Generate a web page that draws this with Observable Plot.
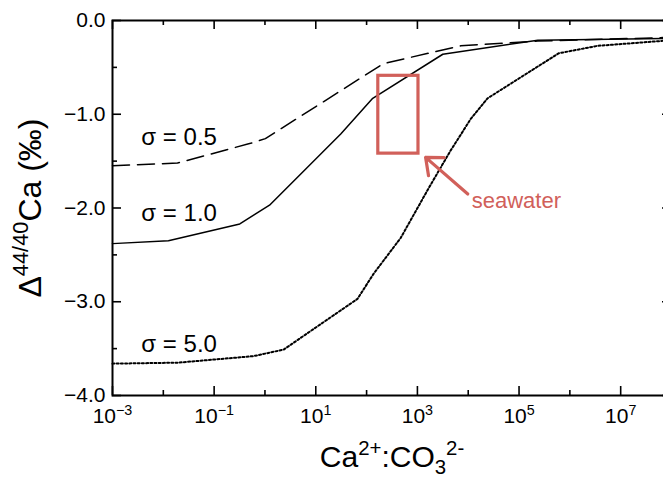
<!DOCTYPE html>
<html><head><meta charset="utf-8">
<script src="https://cdn.jsdelivr.net/npm/d3@7"></script>
<script src="https://cdn.jsdelivr.net/npm/@observablehq/plot@0.6"></script>
<style>
html,body{margin:0;padding:0;background:#fff;overflow:hidden;width:663px;height:483px}
#chart svg{display:block;max-width:none !important}
</style>
</head><body><div id="chart"></div>
<script>
// ---- data ----
const sigma05X = [0.001, 0.019, 0.52, 1.02, 214, 7100, 234000, 1e8];
const sigma05Y = [-1.55, -1.52, -1.31, -1.26, -0.46, -0.27, -0.22, -0.18];

const sigma10X = [0.001, 0.0126, 0.32, 1.23, 31, 132, 3160, 234000, 1e8];
const sigma10Y = [-2.38, -2.35, -2.17, -1.97, -1.21, -0.83, -0.36, -0.21, -0.19];

const sigma50X = [0.001, 0.019, 0.60, 2.34, 66, 138, 468, 1580, 4470, 11200, 24000, 600000, 3550000, 1e8];
const sigma50Y = [-3.66, -3.65, -3.58, -3.51, -2.97, -2.70, -2.32, -1.81, -1.39, -1.05, -0.83, -0.35, -0.27, -0.21];

const labelText = ["σ = 0.5", "σ = 1.0", "σ = 5.0"];
const labelX = [0.0037, 0.0037, 0.0037];
const labelY = [-1.25, -2.06, -3.45];

const seawaterX = [170, 1050];
const seawaterY = [-1.42, -0.59];
const arrowFrom = [9800, -1.85];
const arrowTo = [1450, -1.46];
const seawaterLabel = "seawater";
const seawaterLabelPos = [11700, -1.92];

const xMajor = [1e-3, 1e-1, 1e1, 1e3, 1e5, 1e7];
const xMinor = [1e-2, 1e0, 1e2, 1e4, 1e6, 1e8];
const yMajor = [0, -1, -2, -3, -4];
const yMinor = [-0.5, -1.5, -2.5, -3.5];

const xTitle = "Ca^{2+}:CO_{3}^{2-}";
const yTitle = "Δ^{44/40}Ca (‰)";

// ---- layout ----
const W = 680, H = 483, ML = 112, MR = 9, MT = 20, MB = 88;
const FW = W - ML - MR, FH = H - MT - MB;
const RED = "#d1605a";
const FONT = "'Liberation Sans', Arial, Helvetica, sans-serif";

const toRows = (xs, ys) => xs.map((x, i) => ({x, y: ys[i]}));
const expFmt = d => { const e = Math.round(Math.log10(d)); return `10^{${e < 0 ? "−" + (-e) : e}}`; };
const yFmt = d => d === 0 ? "0.0" : "−" + Math.abs(d).toFixed(1);

const chart = Plot.plot({
  width: W, height: H,
  marginLeft: ML, marginRight: MR, marginTop: MT, marginBottom: MB,
  style: {fontFamily: FONT, background: "#fff", color: "#000", maxWidth: "none"},
  x: {type: "log", domain: [1e-3, 1e8]},
  y: {domain: [-4, 0]},
  marks: [
    // tick marks pointing inward on all four sides
    Plot.tickX(xMajor, {x: d => d, insetTop: FH - 9, strokeWidth: 1.6}),
    Plot.tickX(xMinor, {x: d => d, insetTop: FH - 5, strokeWidth: 1.6}),
    Plot.tickX(xMajor, {x: d => d, insetBottom: FH - 9, strokeWidth: 1.6}),
    Plot.tickX(xMinor, {x: d => d, insetBottom: FH - 5, strokeWidth: 1.6}),
    Plot.tickY(yMajor, {y: d => d, insetRight: FW - 9, strokeWidth: 1.6}),
    Plot.tickY(yMinor, {y: d => d, insetRight: FW - 5, strokeWidth: 1.6}),
    Plot.tickY(yMajor, {y: d => d, insetLeft: FW - 9, strokeWidth: 1.6}),
    Plot.tickY(yMinor, {y: d => d, insetLeft: FW - 5, strokeWidth: 1.6}),
    Plot.axisX({ticks: xMajor, tickSize: 0, tickPadding: 13, tickFormat: expFmt, fontSize: 21, label: null}),
    Plot.axisY({ticks: yMajor, tickSize: 0, tickPadding: 7, tickFormat: yFmt, fontSize: 21, label: null}),
    // curves
    Plot.line(toRows(sigma05X, sigma05Y), {x: "x", y: "y", stroke: "#000", strokeWidth: 1.5, strokeDasharray: "17,8"}),
    Plot.line(toRows(sigma10X, sigma10Y), {x: "x", y: "y", stroke: "#000", strokeWidth: 1.5}),
    Plot.line(toRows(sigma50X, sigma50Y), {x: "x", y: "y", stroke: "#000", strokeWidth: 2, strokeDasharray: "2,2.2"}),
    Plot.text(labelText, {x: (d, i) => labelX[i], y: (d, i) => labelY[i], text: d => d, textAnchor: "start", lineAnchor: "middle", fontSize: 24, fill: "#000"}),
    // seawater box and arrow
    Plot.rect([0], {x1: () => seawaterX[0], x2: () => seawaterX[1], y1: () => seawaterY[0], y2: () => seawaterY[1], fill: "none", stroke: RED, strokeWidth: 3.2}),
    Plot.arrow([0], {x1: () => arrowFrom[0], y1: () => arrowFrom[1], x2: () => arrowTo[0], y2: () => arrowTo[1], stroke: RED, strokeWidth: 3.2, headLength: 15, headAngle: 80}),
    Plot.text([seawaterLabel], {x: () => seawaterLabelPos[0], y: () => seawaterLabelPos[1], text: d => d, textAnchor: "start", lineAnchor: "middle", fontSize: 22, fill: RED}),
    // axis titles
    Plot.text([xTitle], {frameAnchor: "bottom", dy: 62, text: d => d, textAnchor: "middle", lineAnchor: "middle", fontSize: 30, fill: "#000"}),
    Plot.text([yTitle], {frameAnchor: "left", dx: -82, rotate: -90, text: d => d, textAnchor: "middle", lineAnchor: "middle", fontSize: 32, fill: "#000"}),
    Plot.frame({stroke: "#000", strokeWidth: 2})
  ]
});
chart.style.maxWidth = "none";
document.getElementById("chart").appendChild(chart);

// rich text: ^{...} superscript, _{...} subscript
const SVGNS = "http://www.w3.org/2000/svg";
function richText(el) {
  const s = el.textContent;
  if (!/[\^_]\{/.test(s)) return;
  let fs = parseFloat(el.getAttribute("font-size")) || parseFloat(getComputedStyle(el).fontSize) || 20;
  el.textContent = "";
  const re = /([\^_])\{([^}]*)\}/g;
  let last = 0, off = 0, m;
  const add = (txt, size, shift) => {
    const t = document.createElementNS(SVGNS, "tspan");
    t.textContent = txt;
    const dy = shift - off;
    if (dy) t.setAttribute("dy", dy.toFixed(2));
    if (size) t.setAttribute("font-size", size.toFixed(1));
    off = shift;
    el.appendChild(t);
  };
  while ((m = re.exec(s))) {
    if (m.index > last) add(s.slice(last, m.index), null, 0);
    add(m[2], fs * 0.68, m[1] === "^" ? -0.4 * fs : 0.24 * fs);
    last = re.lastIndex;
  }
  if (last < s.length) add(s.slice(last), null, 0);
}
d3.select(chart).selectAll("text").each(function () { richText(this); });
</script>
</body></html>
